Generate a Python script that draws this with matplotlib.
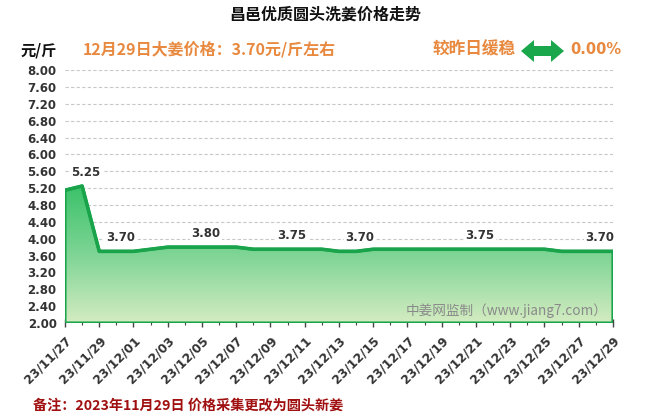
import numpy as np
import pandas as pd
import matplotlib
matplotlib.use('Agg')
import matplotlib.pyplot as plt
from matplotlib.colors import LinearSegmentedColormap
from matplotlib.patches import Polygon

plt.rcParams['font.family'] = ['Noto Sans CJK SC', 'DejaVu Sans']

# data
dates = pd.date_range('2023-11-27', '2023-12-29').strftime('%y/%m/%d').tolist()
prices = [5.15, 5.25, 3.70, 3.70, 3.70, 3.75, 3.80, 3.80, 3.80, 3.80, 3.80,
          3.75, 3.75, 3.75, 3.75, 3.75, 3.70, 3.70, 3.75, 3.75, 3.75, 3.75,
          3.75, 3.75, 3.75, 3.75, 3.75, 3.75, 3.75, 3.70, 3.70, 3.70, 3.70]
label_days = [1, 3, 8, 13, 17, 24, 31]
y_ticks = [2.00, 2.40, 2.80, 3.20, 3.60, 4.00, 4.40, 4.80, 5.20, 5.60,
           6.00, 6.40, 6.80, 7.20, 7.60, 8.00]

green = '#19a34a'
orange = '#e8893f'

fig = plt.figure(figsize=(6.5, 4.2), dpi=100)
ax = fig.add_axes([0.1, 0.231, 0.843, 0.602])

x = np.arange(len(prices))
ax.set_xlim(0, len(prices) - 1)
ax.set_ylim(2.0, 8.0)

# gradient area
fill = ax.fill_between(x, prices, 2.0, facecolor='none', edgecolor=green,
                       linewidth=2.2, zorder=3)
cmap = LinearSegmentedColormap.from_list('g', ['#d4ecc1', '#7ed595', '#3cc26a'])
grad = np.linspace(0, 1, 256).reshape(-1, 1)
im = ax.imshow(grad, extent=[0, len(prices) - 1, 2.0, max(prices)], origin='lower',
               aspect='auto', cmap=cmap, zorder=2)
im.set_clip_path(fill.get_paths()[0], transform=ax.transData)
ax.plot(x, prices, color=green, linewidth=2.6, zorder=4, solid_joinstyle='round')

# value labels
for d in label_days:
    ax.annotate(f'{prices[d]:.2f}', (x[d], prices[d]), xytext=(4, 14),
                textcoords='offset pixels', ha='center', va='center',
                fontsize=8.5, fontweight='bold', color='#333333', family='DejaVu Sans',
                bbox=dict(boxstyle='square,pad=0.15', fc='white', ec='none'), zorder=5)

# axes styling
ax.set_yticks(y_ticks)
ax.set_yticklabels([f'{v:.2f}' for v in y_ticks], fontsize=8.5, fontweight='bold',
                   color='#333333', family='DejaVu Sans')
ax.set_xticks(x[::2])
ax.set_xticklabels(dates[::2], rotation=45, ha='right', rotation_mode='anchor',
                   fontsize=8.8, fontweight='bold', color='#333333', family='DejaVu Sans')
ax.set_xticks(x, minor=True)
ax.tick_params(axis='y', length=0, pad=6)
ax.tick_params(axis='x', which='major', length=6, width=1, color='#444444',
               direction='inout', pad=5)
ax.tick_params(axis='x', which='minor', length=3, width=0.8, color='#444444',
               direction='inout')
for s in ax.spines.values():
    s.set_visible(False)
ax.grid(axis='y', color='#c8c8c8', linestyle=(0, (3, 2)), linewidth=0.8, zorder=1)
ax.set_axisbelow(True)

ax.text(0.99, 0.05, '中姜网监制（www.jiang7.com）', transform=ax.transAxes,
        ha='right', va='center', fontsize=9.8, color='#8a8a8a', zorder=6)

# header texts
fig.text(0.5, 0.966, '昌邑优质圆头洗姜价格走势', ha='center', va='center',
         fontsize=11.5, fontweight='bold', color='#111111')
fig.text(0.031, 0.88, '元/斤', ha='left', va='center', fontsize=11,
         fontweight='bold', color='#111111')
fig.text(0.128, 0.882, '12月29日大姜价格：3.70元/斤左右', ha='left', va='center',
         fontsize=11.5, fontweight='bold', color=orange)
fig.text(0.666, 0.882, '较昨日缓稳', ha='left', va='center', fontsize=12,
         fontweight='bold', color=orange)
fig.text(0.877, 0.882, '0.00%', ha='left', va='center', fontsize=10.5,
         fontweight='bold', color=orange, family='DejaVu Sans')

# double arrow
ax_w, ax_h = 650.0, 420.0
cy = 420 - 51
pts = [(521, cy), (534, cy + 11), (534, cy + 5), (551, cy + 5), (551, cy + 11),
       (564, cy), (551, cy - 11), (551, cy - 5), (534, cy - 5), (534, cy - 11)]
fig.patches.append(Polygon([(px / ax_w, py / ax_h) for px, py in pts], closed=True,
                           transform=fig.transFigure, fc='#1aa64b', ec='none'))

fig.text(0.051, 0.035, '备注：2023年11月29日 价格采集更改为圆头新姜', ha='left',
         va='center', fontsize=10.2, fontweight='bold', color='#a01010')

fig.savefig('out.png', dpi=100)
